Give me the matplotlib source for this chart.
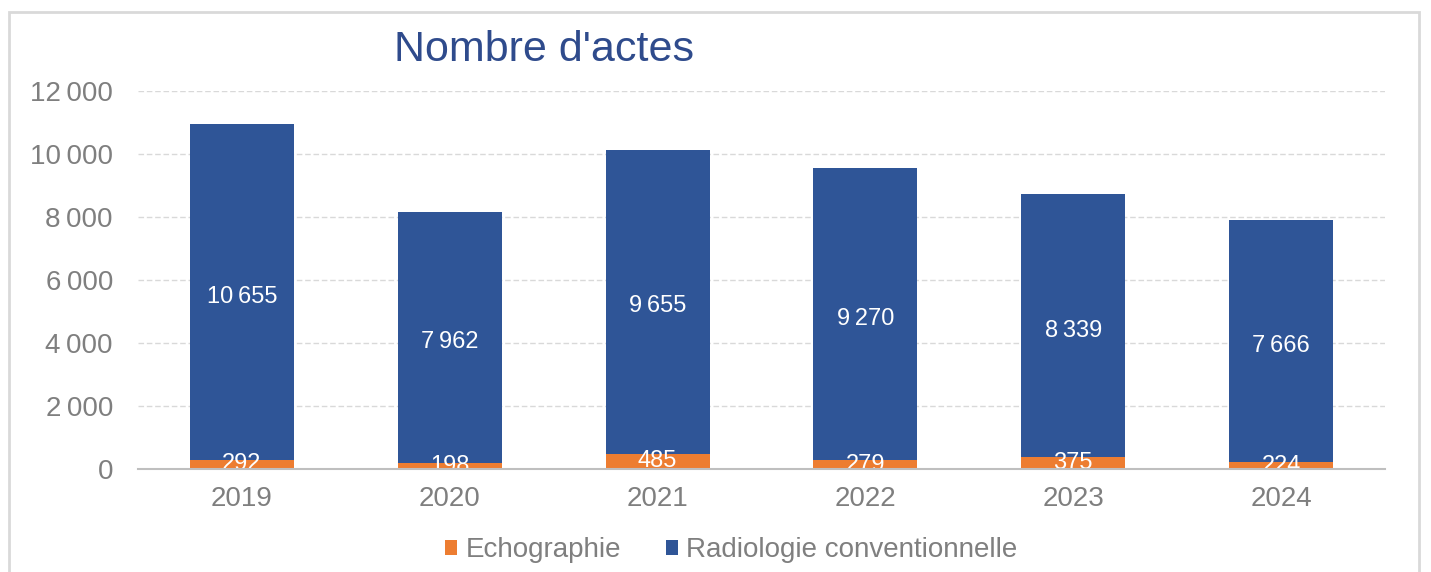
import numpy as np
from matplotlib import pyplot as plt
from matplotlib.patches import Rectangle
from matplotlib.ticker import FuncFormatter

years = ["2019", "2020", "2021", "2022", "2023", "2024"]
echographie = [292, 198, 485, 279, 375, 224]
radiologie = [10655, 7962, 9655, 9270, 8339, 7666]

blue = "#2f5597"
orange = "#ed7d31"
grey = "#7f7f7f"
fonts = ["Liberation Sans", "DejaVu Sans"]
plt.rcParams["font.family"] = fonts


def fmt(v):
    return f"{v:,.0f}".replace(",", "\u2009")


fig = plt.figure(figsize=(14.31, 5.72), dpi=100)
ax = fig.add_axes([0.0964, 0.18, 0.8715, 0.661])

x = np.arange(len(years))
echo = np.array(echographie)
radio = np.array(radiologie)
b1 = ax.bar(x, echo, 0.5, color=orange, label="Echographie", zorder=3)
b2 = ax.bar(x, radio, 0.5, bottom=echo, color=blue, label="Radiologie conventionnelle", zorder=3)

for xi, e, r in zip(x, echo, radio):
    ax.text(xi, e / 2, fmt(e), ha="center", va="center", color="white", fontsize=17, zorder=4)
    ax.text(xi, e + r / 2 - 150, fmt(r), ha="center", va="center", color="white", fontsize=17, zorder=4)

ax.set_ylim(0, 12000)
ax.set_xlim(-0.5, len(years) - 0.5)
ax.set_yticks(np.arange(0, 12001, 2000))
ax.yaxis.set_major_formatter(FuncFormatter(lambda v, p: fmt(v)))
ax.set_xticks(x)
ax.set_xticklabels(years)
ax.tick_params(axis="y", length=0, pad=18, labelsize=20, labelcolor=grey)
ax.tick_params(axis="x", length=0, pad=12, labelsize=20, labelcolor=grey)
ax.grid(axis="y", color="#d9d9d9", linestyle=(0, (4, 2)), linewidth=1, zorder=0)
for s in ["top", "right", "left"]:
    ax.spines[s].set_visible(False)
ax.spines["bottom"].set_color("#bfbfbf")
ax.spines["bottom"].set_linewidth(1.5)
ax.spines["bottom"].set_zorder(5)

fig.text(0.380, 1 - 50 / 572, "Nombre d'actes", ha="center", va="center",
         fontsize=31, color="#2f4b8c")

fig.legend(handles=[b1, b2], loc="center", bbox_to_anchor=(0.511, 1 - 550 / 572),
           ncol=2, frameon=False, fontsize=20, labelcolor=grey,
           handlelength=0.45, handleheight=0.45, handletextpad=0.3, columnspacing=1.6)

fig.patches.append(Rectangle((9 / 1431, -0.05), 1410 / 1431, 1 + 0.05 - 12 / 572,
                             transform=fig.transFigure, fill=False,
                             edgecolor="#d9d9d9", linewidth=2))

fig.savefig("out.png", dpi=100)
